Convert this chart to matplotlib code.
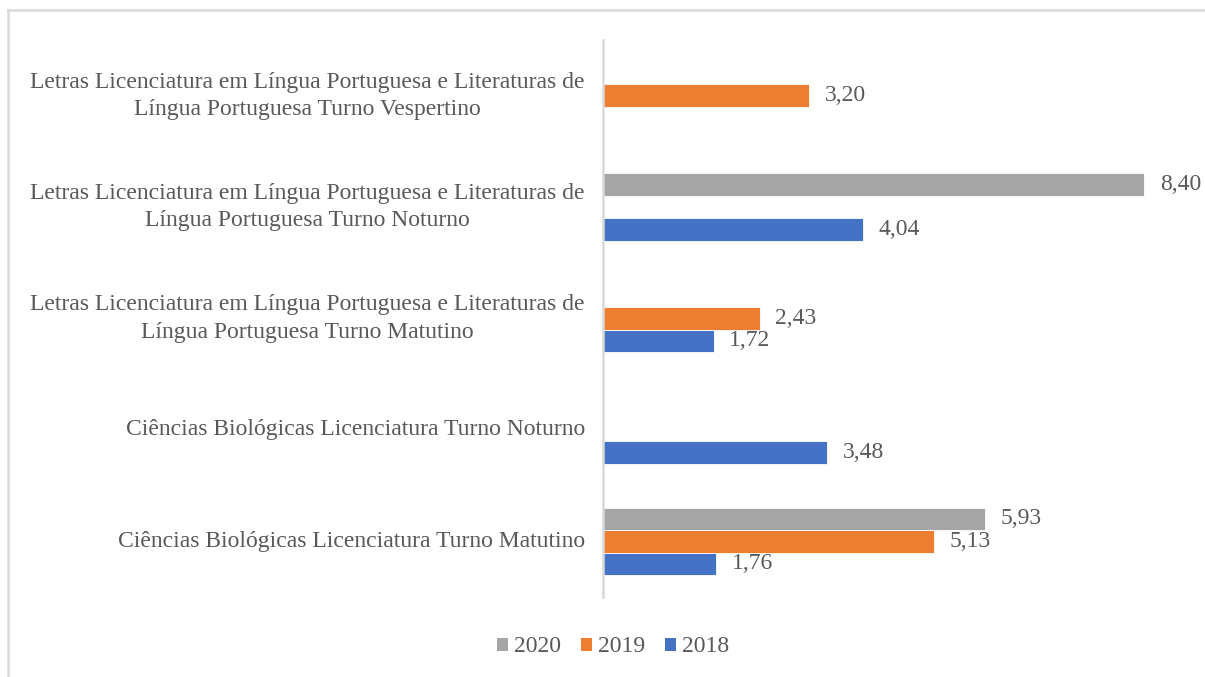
import matplotlib
matplotlib.use("Agg")
import matplotlib.pyplot as plt
import matplotlib.transforms as mtrans
from matplotlib.lines import Line2D
from matplotlib.patches import Patch

categories = [
    "Ciências Biológicas Licenciatura Turno Matutino",
    "Ciências Biológicas Licenciatura Turno Noturno",
    "Letras Licenciatura em Língua Portuguesa e Literaturas de\nLíngua Portuguesa Turno Matutino",
    "Letras Licenciatura em Língua Portuguesa e Literaturas de\nLíngua Portuguesa Turno Noturno",
    "Letras Licenciatura em Língua Portuguesa e Literaturas de\nLíngua Portuguesa Turno Vespertino",
]
series_names = ["2018", "2019", "2020"]
values_2018 = [1.76, 3.48, 1.72, 4.04, None]
values_2019 = [5.13, None, 2.43, None, 3.20]
values_2020 = [5.93, None, None, 8.40, None]
colors = {"2018": "#4472C4", "2019": "#ED7D31", "2020": "#A5A5A5"}

plt.rcParams['font.family'] = ['Liberation Serif', 'DejaVu Serif']
txt_color = "#595959"
fs = 17

fig = plt.figure(figsize=(12.05, 6.77), dpi=100)
ax = fig.add_axes([603/1205, 80/677, 580/1205, 557/677])

bh = 22.5/111.5
offsets = {"2018": -bh, "2019": 0.0, "2020": bh}
data = {"2018": values_2018, "2019": values_2019, "2020": values_2020}
for name in series_names:
    for i, v in enumerate(data[name]):
        if v is None:
            continue
        y = i + offsets[name]
        ax.barh(y, v, height=bh, color=colors[name], edgecolor="white", linewidth=0.6)
        ax.text(v + 0.24, y, f"{v:.2f}".replace(".", ","), va="center", ha="left",
                fontsize=fs, color=txt_color)

ax.set_xlim(0, 9)
ax.set_ylim(-0.5, 4.5)
ax.set_yticks([])
ax.set_xticks([])
for s in ["top", "right", "bottom"]:
    ax.spines[s].set_visible(False)
ax.spines["left"].set_color("#D9D9D9")
ax.spines["left"].set_linewidth(1.8)

trans = mtrans.blended_transform_factory(fig.transFigure, ax.transData)
for i, c in enumerate(categories):
    ax.text(585/1205, i, c, transform=trans, ha="right", va="center",
            fontsize=fs, color=txt_color, multialignment="center", linespacing=1.38)

handles = [Patch(facecolor=colors[n], edgecolor="none", label=n) for n in ["2020", "2019", "2018"]]
fig.legend(handles=handles, loc="center", bbox_to_anchor=(613/1205, 1-647/677), ncol=3,
           frameon=False, fontsize=fs, labelcolor=txt_color, handlelength=0.47, handleheight=0.47,
           handletextpad=0.25, columnspacing=0.85)

fig.add_artist(Line2D([8/1205, 1], [1-10/677, 1-10/677], transform=fig.transFigure, color="#D9D9D9", linewidth=1.8))
fig.add_artist(Line2D([8/1205, 8/1205], [0, 1-10/677], transform=fig.transFigure, color="#D9D9D9", linewidth=1.8))

fig.savefig("out.png", dpi=100)
